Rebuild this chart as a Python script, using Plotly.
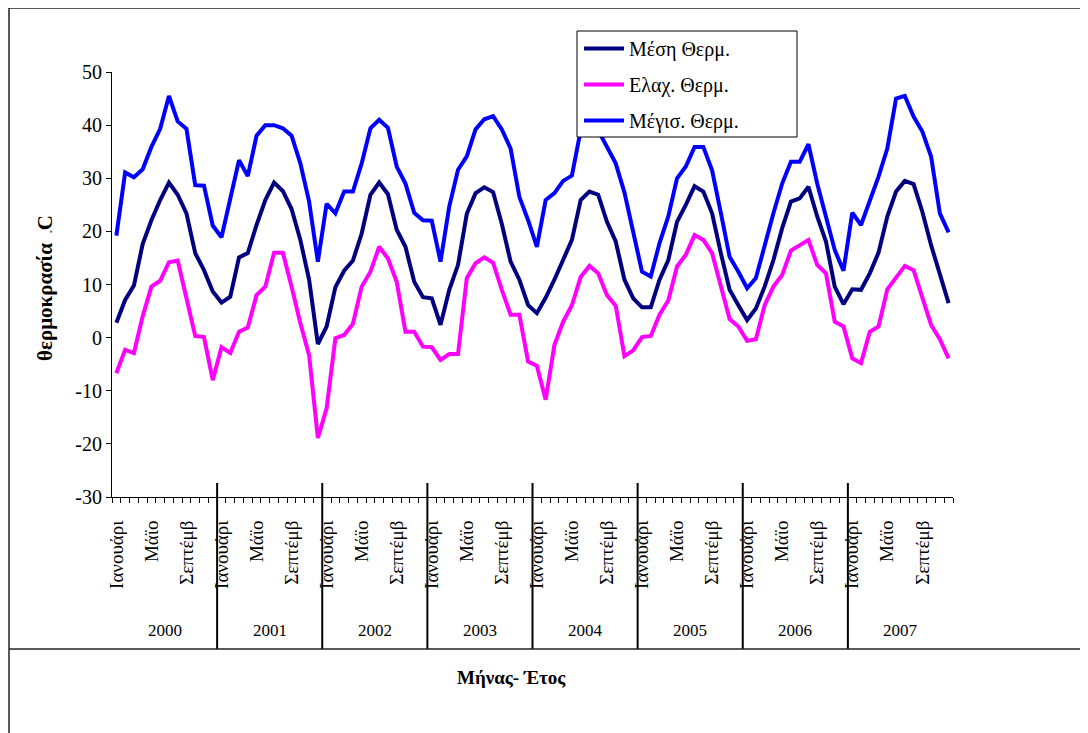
import plotly.graph_objects as go

years = [2000, 2001, 2002, 2003, 2004, 2005, 2006, 2007]
months = ["Ιανουάρι", "Φεβρουάρι", "Μάρτιο", "Απρίλιο", "Μάϊο", "Ιούνιο",
          "Ιούλιο", "Αύγουστο", "Σεπτέμβ", "Οκτώβρ", "Νοέμβρ", "Δεκέμβρ"]
shown_months = ["Ιανουάρι", "Μάϊο", "Σεπτέμβ"]
y_ticks = [-30, -20, -10, 0, 10, 20, 30, 40, 50]

# Μέση Θερμ. (mean temperature), 12 values per year
t_mean = [
    2.8, 7.1, 9.8, 17.6, 22.1, 25.9, 29.2, 26.9, 23.4, 15.9, 12.7, 8.7,     # 2000
    6.6, 7.7, 15.1, 15.9, 21.2, 25.9, 29.2, 27.6, 24.2, 18.4, 10.9, -1.2,   # 2001
    2.1, 9.5, 12.6, 14.5, 19.6, 26.9, 29.2, 27.0, 20.3, 17.1, 10.5, 7.6,    # 2002
    7.4, 2.4, 9.0, 13.7, 23.3, 27.2, 28.3, 27.4, 21.4, 14.3, 10.9, 6.1,     # 2003
    4.6, 7.5, 10.9, 14.6, 18.4, 25.9, 27.5, 26.9, 21.8, 18.1, 10.9, 7.4,    # 2004
    5.7, 5.7, 10.9, 14.6, 21.8, 25.0, 28.5, 27.5, 23.4, 15.9, 9.0, 6.1,     # 2005
    3.3, 5.5, 9.6, 14.6, 20.6, 25.6, 26.2, 28.4, 22.8, 18.1, 9.6, 6.3,      # 2006
    9.1, 9.0, 12.1, 16.0, 22.8, 27.5, 29.5, 28.9, 23.7, 17.4, 12.1, 6.5,    # 2007
]

# Ελαχ. Θερμ. (minimum temperature)
t_min = [
    -6.7, -2.3, -2.9, 4.0, 9.6, 10.7, 14.2, 14.5, 7.4, 0.3, 0.1, -8.0,      # 2000
    -1.8, -2.9, 1.1, 1.9, 8.0, 9.6, 16.0, 16.0, 9.6, 2.7, -3.3, -18.9,      # 2001
    -13.3, -0.1, 0.5, 2.6, 9.6, 12.4, 17.1, 14.9, 10.5, 1.1, 1.1, -1.7,     # 2002
    -1.8, -4.2, -3.1, -3.1, 11.2, 14.0, 15.1, 14.1, 9.0, 4.3, 4.3, -4.5,    # 2003
    -5.3, -11.7, -1.4, 3.0, 6.1, 11.4, 13.5, 12.1, 8.0, 6.0, -3.5, -2.4,    # 2004
    0.1, 0.3, 4.3, 7.0, 13.4, 15.6, 19.3, 18.4, 15.9, 9.5, 3.5, 2.1,        # 2005
    -0.6, -0.3, 6.1, 9.6, 11.8, 16.4, 17.4, 18.4, 13.7, 12.1, 3.0, 2.1,     # 2006
    -3.9, -4.8, 1.1, 2.1, 9.1, 11.2, 13.5, 12.7, 7.6, 2.4, -0.3, -3.9,      # 2007
]

# Μέγισ. Θερμ. (maximum temperature)
t_max = [
    19.2, 31.1, 30.2, 31.7, 35.9, 39.3, 45.5, 40.7, 39.3, 28.7, 28.6, 21.1, # 2000
    18.9, 25.9, 33.4, 30.4, 38.0, 40.0, 40.0, 39.4, 38.0, 32.8, 25.6, 14.3, # 2001
    25.2, 23.4, 27.5, 27.5, 32.8, 39.4, 41.0, 39.5, 32.2, 29.0, 23.5, 22.1, # 2002
    22.0, 14.3, 24.7, 31.6, 34.1, 39.2, 41.1, 41.7, 39.2, 35.6, 26.5, 22.1, # 2003
    17.1, 25.9, 27.2, 29.5, 30.5, 39.0, 42.5, 39.0, 35.8, 32.8, 27.3, 19.6, # 2004
    12.4, 11.5, 17.8, 22.8, 30.0, 32.2, 35.9, 35.9, 31.5, 23.5, 15.2, 12.4, # 2005
    9.3, 11.2, 17.4, 23.4, 29.0, 33.1, 33.1, 36.4, 29.0, 22.8, 16.5, 12.6,  # 2006
    23.5, 21.2, 25.9, 30.3, 35.6, 45.0, 45.5, 41.6, 38.8, 34.1, 23.4, 19.8, # 2007
]

series = [
    ("Μέση Θερμ.", t_mean, "#000080"),
    ("Ελαχ. Θερμ.", t_min, "#FF00FF"),
    ("Μέγισ. Θερμ.", t_max, "#0000FF"),
]

n_m = len(months)
idx = list(range(len(years) * n_m))

FONT = "Liberation Serif, DejaVu Serif, Times New Roman, serif"

fig = go.Figure()
for name, vals, color in series:
    fig.add_trace(go.Scatter(
        x=idx, y=vals, mode="lines", name=name, legendgroup=name,
        line=dict(color=color, width=4),
    ))

tickvals = [i for i in idx if months[i % n_m] in shown_months]
ticktext = [months[i % n_m] for i in tickvals]

# page has an 8px body margin; screen target coordinates are converted below
OFF = 8
W, H = 1080, 725
L, T = 104, 64
pw, ph = 841, 425
R, B = W - L - pw, H - T - ph


def px_x(p):
    return (p - OFF - L) / pw


def px_y(p):
    return (T + ph - (p - OFF)) / ph


shapes = []
# year dividers of the category axis
for k in range(1, len(years)):
    xv = k * n_m - 0.5
    shapes.append(dict(type="line", xref="x", yref="paper", x0=xv, x1=xv,
                       y0=px_y(483), y1=px_y(649), line=dict(color="black", width=2)))
# chart-area frame lines
shapes.append(dict(type="line", xref="paper", yref="paper", x0=px_x(9), x1=px_x(W + 20),
                   y0=px_y(8), y1=px_y(8), line=dict(color="#222", width=1.5)))
shapes.append(dict(type="line", xref="paper", yref="paper", x0=px_x(9), x1=px_x(9),
                   y0=px_y(8), y1=px_y(H + 20), line=dict(color="#222", width=1.5)))
shapes.append(dict(type="line", xref="paper", yref="paper", x0=px_x(9), x1=px_x(W + 20),
                   y0=px_y(649), y1=px_y(649), line=dict(color="#222", width=1.5)))
# legend box
shapes.append(dict(type="rect", xref="paper", yref="paper", layer="above",
                   x0=px_x(577), x1=px_x(797), y0=px_y(31), y1=px_y(137),
                   fillcolor="white", line=dict(color="black", width=1)))

annotations = []
for k, yr in enumerate(years):
    annotations.append(dict(x=k * n_m + (n_m - 1) / 2, y=px_y(630), xref="x", yref="paper",
                            text=str(yr), showarrow=False, yanchor="middle",
                            font=dict(family=FONT, size=17, color="black")))
annotations.append(dict(x=px_x(511), y=px_y(677), xref="paper", yref="paper",
                        text="<b>Μήνας- Έτος</b>", showarrow=False, yanchor="middle",
                        font=dict(family=FONT, size=19, color="black")))
annotations.append(dict(x=px_x(45), y=px_y(288), xref="paper", yref="paper",
                        text="<b>θερμοκρασία  <span style='font-size:5px'>ο</span>C</b>",
                        textangle=-90, showarrow=False, xanchor="center", yanchor="middle",
                        font=dict(family=FONT, size=21, color="black")))

fig.update_layout(
    width=W, height=H,
    margin=dict(l=L, r=R, t=T, b=B, autoexpand=False),
    paper_bgcolor="white", plot_bgcolor="white",
    font=dict(family=FONT, color="black"),
    showlegend=True,
    legend=dict(x=px_x(579), y=px_y(29), xanchor="left", yanchor="top",
                bgcolor="rgba(0,0,0,0)", borderwidth=0, tracegroupgap=7,
                traceorder="grouped", itemwidth=40,
                font=dict(family=FONT, size=20, color="black")),
    shapes=shapes,
    annotations=annotations,
    xaxis=dict(
        range=[-0.5, len(idx) - 0.5], showgrid=False, zeroline=False,
        showline=True, linecolor="black", linewidth=1,
        tickmode="array", tickvals=tickvals, ticktext=ticktext, tickangle=-90,
        ticks="outside", ticklen=15, tickcolor="rgba(0,0,0,0)",
        tickfont=dict(family=FONT, size=19, color="black"),
        minor=dict(ticks="outside", ticklen=5, tickcolor="black", tickwidth=1,
                   tickmode="linear", tick0=-0.5, dtick=1, showgrid=False),
    ),
    yaxis=dict(
        range=[-30, 50], tickmode="array", tickvals=y_ticks,
        ticktext=[str(v) for v in y_ticks], showgrid=False, zeroline=False,
        showline=True, linecolor="black", linewidth=1,
        ticks="outside", ticklen=5, tickcolor="black",
        tickfont=dict(family=FONT, size=20, color="black"),
    ),
)

fig.write_html("out.html")
